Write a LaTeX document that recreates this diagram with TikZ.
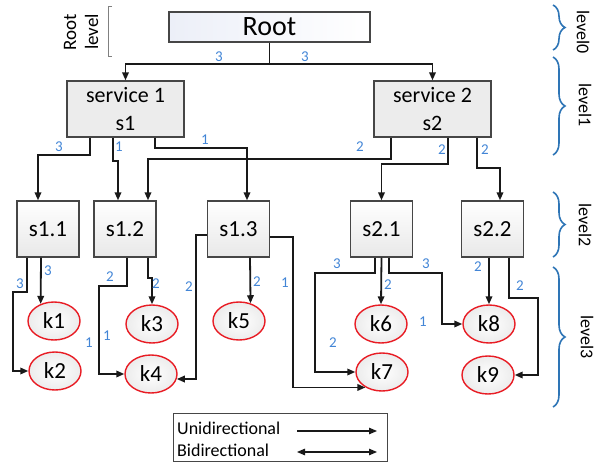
\documentclass[tikz,border=0pt]{standalone}
\usepackage{fontspec}
\setmainfont{Carlito}
\usetikzlibrary{arrows.meta,shapes.geometric,decorations.pathreplacing}
\definecolor{edge}{RGB}{25,25,25}
\definecolor{frame}{RGB}{70,70,70}
\definecolor{wblue}{RGB}{66,133,214}
\definecolor{bblue}{RGB}{46,117,182}
\definecolor{kred}{RGB}{232,28,36}
\definecolor{pale}{RGB}{236,239,248}
\tikzset{
  >={Triangle[length=8pt,width=6.5pt]},
  rootbox/.style={draw=frame,line width=1.3pt,left color=pale,right color=white,
    minimum width=201pt,minimum height=30pt,inner sep=0pt,font=\fontsize{28}{30}\selectfont},
  svcbox/.style={draw=frame,line width=1.3pt,fill=gray!15,minimum width=117pt,
    minimum height=56pt,align=center,font=\fontsize{22}{28}\selectfont},
  subbox/.style={draw=frame,line width=1.3pt,top color=white,bottom color=gray!18,
    minimum width=62pt,minimum height=56pt,font=\fontsize{23}{25}\selectfont},
  knode/.style={ellipse,draw=kred,line width=1.4pt,inner color=white,outer color=gray!15,
    minimum width=52pt,minimum height=38pt,inner sep=0pt,font=\fontsize{23}{25}\selectfont},
  flow/.style={->,line width=1.8pt,draw=edge},
  wt/.style={text=wblue,font=\fontsize{15}{16}\selectfont,inner sep=0pt},
  lvl/.style={rotate=-90,font=\fontsize{18}{20}\selectfont,inner sep=0pt},
  lbrace/.style={draw=bblue,line width=1.6pt,decorate,decoration={brace,amplitude=12pt}},
  legtxt/.style={anchor=west,font=\fontsize{18}{20}\selectfont,inner sep=0pt},
}
\begin{document}
\begin{tikzpicture}[x=1pt,y=-1pt]
  \useasboundingbox (0,0) rectangle (602,462);
  % levels 0 and 1
  \node[rootbox] (root) at (269.5,27) {Root};
  \node[svcbox] (sv1) at (125.5,109) {service 1\\s1};
  \node[svcbox] (sv2) at (432.5,109) {service 2\\s2};
  % level 2
  \foreach \n/\x/\t in {s11/48/s1.1,s12/125/s1.2,s13/238.5/s1.3,s21/381.5/s2.1,s22/492.5/s2.2}
    \node[subbox] (\n) at (\x,229) {\t};
  % level 3
  \foreach \n/\x/\y in {k1/54/321,k2/55/371,k3/152/324,k4/151/374,k5/239/321,
                        k6/381/324,k7/382/372,k8/489/324,k9/488/375}
    \node[knode] (\n) at (\x,\y) {\n};

  \draw[flow] (root.south) -- ++(0,21) -| (sv1.north);
  \draw[flow] (root.south) -- ++(0,21) -| (sv2.north);
  \draw[flow] ([xshift=-35.5]sv1.south) -- ++(0,17) -| ([xshift=-10]s11.north);
  \draw[flow] ([xshift=-12.5]sv1.south) -- ++(0,23) -| ([xshift=-7]s12.north);
  \draw[flow] ([xshift=29.5]sv1.south) -- ++(0,10) -| ([xshift=8.5]s13.north);
  \draw[flow] ([xshift=-41.5]sv2.south) -- ++(0,21) -| ([xshift=23]s12.north);
  \draw[flow] ([xshift=15.5]sv2.south) -- ++(0,26) -| (s21.north);
  \draw[flow] ([xshift=44.5]sv2.south) -- ++(0,30) -| ([xshift=7.5]s22.north);

  \draw[flow] ([xshift=-7]s11.south) -- (k1.128);
  \draw[flow] ([xshift=-21]s11.south) -- ++(0,34) -- ++(-14,0) |- (k2.west);
  \draw[flow] ([xshift=23]s12.south) -- ++(0,20) -| (k3.north);
  \draw[flow] ([xshift=2]s12.south) -- ++(0,28) -- ++(-28,0) |- (k4.west);
  \draw[flow] ([yshift=-6]s13.west) -- ++(-11,0) |- (k4.-11);
  \draw[flow] ([xshift=11.5]s13.south) -- (k5.57);
  \draw[flow] ([yshift=-8]s13.east) -- ++(23,0) |- (k7.223);
  \draw[flow] ([xshift=-6.5]s21.south) -- ++(0,15) -- ++(-60,0) |- (k7.west);
  \draw[flow] (s21.south) -- (k6.north);
  \draw[flow] ([xshift=7.5]s21.south) -- ++(0,15) -- ++(53,0) |- (k8.west);
  \draw[flow] ([xshift=-3.5]s22.south) -- (k8.north);
  \draw[flow] ([xshift=16.5]s22.south) -- ++(0,40) -- ++(29,0) |- (k9.east);

  % weights
  \foreach \i/\x/\y/\w in {1/219/57/3,2/305/57/3,3/59/147/3,4/119/147/1,5/205/140/1,
      6/360/147/2,7/442/150/2,8/485/150/2,9/48/271/3,10/20/284/3,11/110/277/2,
      12/156/284/2,13/89/343/1,14/107/336/1,15/189/287/2,16/257/282/2,17/285/283/1,
      18/337/264/3,19/388/285/2,20/426/264/3,21/423/322/1,22/333/343/2,23/478/267/2,24/520/286/2}
    \node[wt] (w\i) at (\x,\y) {\w};

  % level marks
  \node[rotate=90,align=center,font=\fontsize{19}{22}\selectfont,inner sep=0pt] (rl) at (81,32) {Root\\level};
  \draw[gray,line width=1pt] (112,7) -- (108,7) -- (108,57) -- (112,57);
  \draw[lbrace] (553,5) -- (553,50);
  \draw[lbrace] (553,57) -- (553,155);
  \draw[lbrace] (553,192) -- (553,257);
  \draw[lbrace] (553,267) -- (553,407);
  \node[lvl] (l0) at (583,32) {level0};
  \node[lvl] (l1) at (585,105) {level1};
  \node[lvl] (l2) at (585,225) {level2};
  \node[lvl] (l3) at (587,337) {level3};

  % legend
  \node[draw=frame,line width=1pt,minimum width=214pt,minimum height=48pt] (legend) at (280,437) {};
  \node[legtxt] (uni) at (177,428) {Unidirectional};
  \node[legtxt] (bi) at (177,450) {Bidirectional};
  \coordinate (u0) at (297,431); \coordinate (u1) at (377,431);
  \coordinate (b0) at (297,452); \coordinate (b1) at (377,452);
  \draw[flow,line width=1.2pt] (u0) -- (u1);
  \draw[flow,<->,line width=1.2pt] (b0) -- (b1);
\end{tikzpicture}
\end{document}
